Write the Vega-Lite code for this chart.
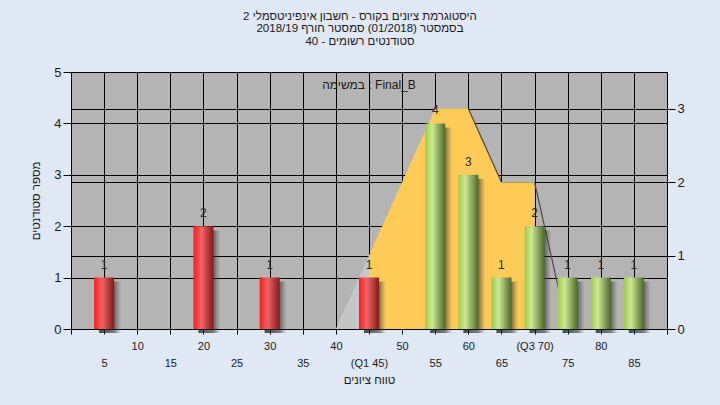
{
  "$schema": "https://vega.github.io/schema/vega-lite/v6.json",
  "width": 596,
  "height": 257,
  "autosize": "none",
  "padding": {"left": 71, "top": 72, "right": 53, "bottom": 76},
  "background": "#dfe8f4",
  "config": {
    "font": "Liberation Sans",
    "view": {"fill": "#b4b4b4", "stroke": "#000000", "strokeWidth": 1},
    "axis": {
      "domainColor": "#000000",
      "tickColor": "#000000",
      "gridColor": "#000000",
      "gridOpacity": 1,
      "gridWidth": 1,
      "labelColor": "#1a1a1a",
      "titleColor": "#1a1a1a",
      "titleFontWeight": "normal",
      "labelFont": "Liberation Sans",
      "titleFont": "Liberation Sans"
    }
  },
  "title": {
    "text": ["היסטוגרמת ציונים בקורס - חשבון אינפיניטסמלי 2", "בסמסטר  (01/2018)  סמסטר חורף 2018/19", "סטודנטים רשומים - 40"],
    "anchor": "middle",
    "fontSize": 11.5,
    "fontWeight": "normal",
    "color": "#1a1a1a",
    "lineHeight": 12.5,
    "offset": 19,
    "dx": -9
  },
  "datasets": {
    "bars": [
      {"score": 5, "count": 1, "grp": "fail"},
      {"score": 20, "count": 2, "grp": "fail"},
      {"score": 30, "count": 1, "grp": "fail"},
      {"score": 45, "count": 1, "grp": "fail"},
      {"score": 55, "count": 4, "grp": "pass"},
      {"score": 60, "count": 3, "grp": "pass"},
      {"score": 65, "count": 1, "grp": "pass"},
      {"score": 70, "count": 2, "grp": "pass"},
      {"score": 75, "count": 1, "grp": "pass"},
      {"score": 80, "count": 1, "grp": "pass"},
      {"score": 85, "count": 1, "grp": "pass"}
    ],
    "tail": [
      {"score": 40, "value": 0},
      {"score": 45, "value": 1}
    ],
    "box": [
      {"score": 45, "value": 1},
      {"score": 55, "value": 3},
      {"score": 60, "value": 3},
      {"score": 65, "value": 2},
      {"score": 70, "value": 2}
    ],
    "edges": [
      {"score": 60, "value": 3, "seg": "a"},
      {"score": 65, "value": 2, "seg": "a"},
      {"score": 70, "value": 2, "seg": "b"},
      {"score": 75, "value": 0, "seg": "b"}
    ],
    "note": [{"text": "במשימה : Final_B", "score": 45, "count": 4.75}]
  },
  "encoding": {
    "x": {
      "field": "score",
      "type": "quantitative",
      "scale": {"domain": [0, 90], "nice": false, "zero": true, "padding": 0},
      "axis": {
        "values": [0, 5, 10, 15, 20, 25, 30, 35, 40, 45, 50, 55, 60, 65, 70, 75, 80, 85, 90],
        "labelExpr": "datum.value == 0 || datum.value == 90 ? '' : datum.value == 45 ? '(Q1 45)' : datum.value == 70 ? '(Q3 70)' : datum.label",
        "labelPadding": {"condition": {"test": "datum.value % 10 == 0", "value": 6}, "value": 23},
        "labelOverlap": false,
        "labelFlush": false,
        "labelFontSize": 11,
        "tickSize": 5,
        "grid": true,
        "title": "טווח ציונים",
        "titleFontSize": 11.5,
        "titlePadding": 6
      }
    }
  },
  "layer": [
    {
      "encoding": {
        "y": {
          "field": "value",
          "type": "quantitative",
          "scale": {"domain": [0, 3.5], "nice": false},
          "axis": {
            "orient": "right",
            "values": [0, 1, 2, 3],
            "grid": true,
            "tickSize": 8,
            "labelPadding": 2,
            "labelFontSize": 13,
            "title": null
          }
        }
      },
      "layer": [
        {"data": {"name": "tail"}, "mark": {"type": "area", "fill": "#c6c6c6"}},
        {"data": {"name": "box"}, "mark": {"type": "area", "fill": "#ffcb57"}},
        {
          "data": {"name": "edges"},
          "mark": {"type": "line", "stroke": "#4a4a4a", "strokeWidth": 1.2},
          "encoding": {"detail": {"field": "seg"}}
        }
      ]
    },
    {
      "encoding": {
        "y": {
          "field": "count",
          "type": "quantitative",
          "scale": {"domain": [0, 5], "nice": false},
          "axis": {
            "orient": "left",
            "values": [0, 1, 2, 3, 4, 5],
            "grid": true,
            "tickSize": 8,
            "labelPadding": 2,
            "labelFontSize": 13,
            "title": "מספר סטודנטים",
            "titleFontSize": 11.5,
            "titlePadding": 12
          }
        }
      },
      "layer": [
        {
          "data": {"name": "bars"},
          "mark": {
            "type": "bar",
            "width": 22,
            "xOffset": 6,
            "yOffset": 4,
            "fill": {
              "gradient": "linear", "x1": 0, "y1": 0, "x2": 1, "y2": 0,
              "stops": [
                {"offset": 0, "color": "rgba(20,20,20,0.75)"},
                {"offset": 0.7, "color": "rgba(40,40,40,0.55)"},
                {"offset": 1, "color": "rgba(80,80,80,0)"}
              ]
            }
          }
        },
        {
          "data": {"name": "bars"},
          "transform": [{"filter": "datum.grp == 'fail'"}],
          "mark": {
            "type": "bar",
            "width": 20,
            "fill": {
              "gradient": "linear", "x1": 0, "y1": 0, "x2": 1, "y2": 0,
              "stops": [
                {"offset": 0, "color": "#ff1c1c"},
                {"offset": 0.4, "color": "#ee6464"},
                {"offset": 1, "color": "#861a1a"}
              ]
            }
          }
        },
        {
          "data": {"name": "bars"},
          "transform": [{"filter": "datum.grp == 'pass'"}],
          "mark": {
            "type": "bar",
            "width": 20,
            "fill": {
              "gradient": "linear", "x1": 0, "y1": 0, "x2": 1, "y2": 0,
              "stops": [
                {"offset": 0, "color": "#9ccb4a"},
                {"offset": 0.35, "color": "#cde792"},
                {"offset": 1, "color": "#4b6a29"}
              ]
            }
          }
        },
        {
          "data": {"name": "bars"},
          "mark": {"type": "text", "baseline": "alphabetic", "dy": -9, "fontSize": 12, "color": "#2b2b2b"},
          "encoding": {"text": {"field": "count", "type": "quantitative"}}
        },
        {
          "data": {"name": "note"},
          "mark": {"type": "text", "baseline": "middle", "fontSize": 12, "color": "#1a1a1a"},
          "encoding": {"text": {"field": "text"}}
        }
      ]
    }
  ],
  "resolve": {"scale": {"y": "independent"}}
}
